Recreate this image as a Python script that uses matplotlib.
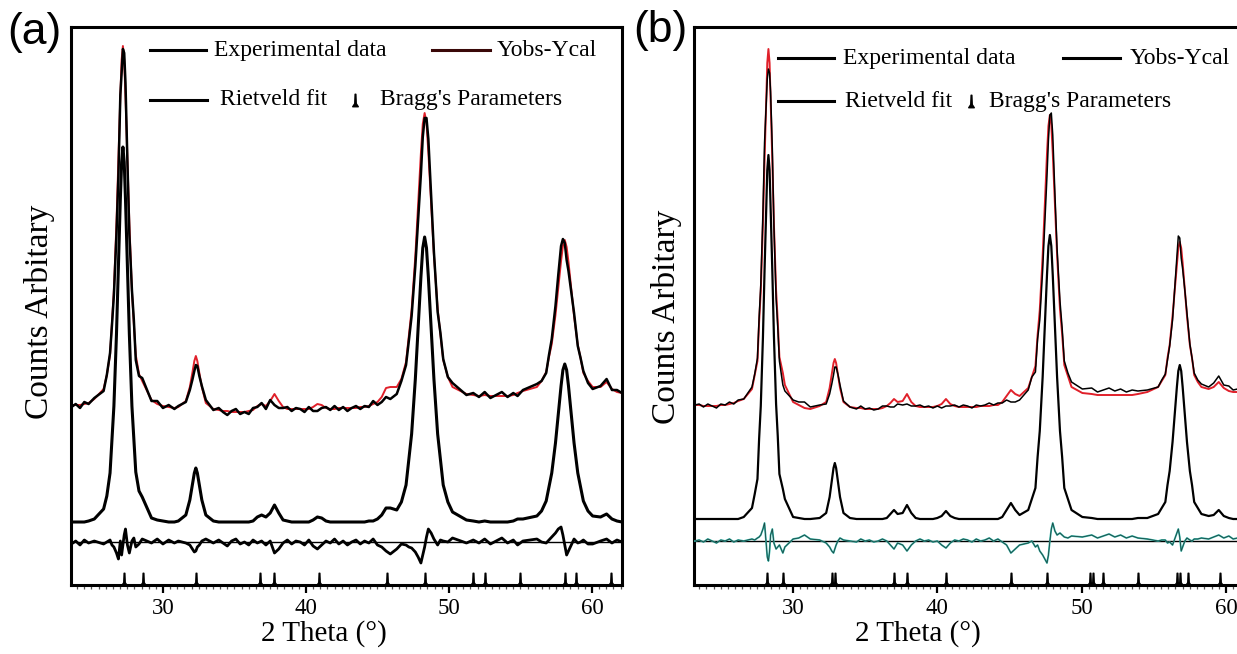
import numpy as np
import matplotlib
matplotlib.use("Agg")
import matplotlib.pyplot as plt
from matplotlib.path import Path
from matplotlib.ticker import MultipleLocator

plt.rcParams['font.family'] = ['Liberation Serif', 'DejaVu Serif']

# ---------------- panel (a) ----------------
# 2 theta grid, denser around the strong reflections
tt_a = [23.6, 23.9, 24.2, 24.5, 24.8,
        25.2, 25.85, 26.075, 26.3, 26.435, 26.57, 26.75, 26.885, 27.02, 27.11, 27.2, 27.29, 27.38,
        27.515, 27.65, 27.83, 27.965, 28.1, 28.325, 28.55, 29.2,
        29.6, 30.0, 30.4, 30.8,
        31.075, 31.6, 31.88, 32.055, 32.195, 32.3, 32.405, 32.545, 32.72, 33.0, 33.525,
        33.9, 34.2, 34.5, 34.8, 35.1, 35.4, 35.7, 36.0, 36.3, 36.6,
        36.9, 37.2, 37.5, 37.8, 38.1, 38.4, 38.7, 39.0, 39.3, 39.6,
        39.9, 40.2, 40.5, 40.8, 41.1, 41.4, 41.7, 42.0, 42.3, 42.6,
        42.9, 43.2, 43.5, 43.8, 44.1, 44.4, 44.7, 45.0, 45.3, 45.6, 45.9,
        46.35, 46.675, 47.0, 47.195, 47.39, 47.65, 47.845, 48.04, 48.17, 48.3, 48.43, 48.56, 48.755,
        48.95, 49.21, 49.405, 49.6, 49.925, 50.25, 51.225,
        51.7, 52.1, 52.5, 52.9, 53.3, 53.7, 54.1, 54.5, 54.8,
        55.175, 56.15, 56.475, 56.8, 56.995, 57.19, 57.45, 57.645, 57.84, 57.97, 58.1, 58.23, 58.36,
        58.555, 58.75, 59.01, 59.205, 59.4, 59.725, 60.05, 60.6, 61.025,
        61.4, 61.75, 62.1]
# calculated pattern drawn with the experimental data (upper, offset)
calc_a = [180, 180, 180, 181, 182,
          186, 196, 210, 230, 263, 295, 362, 426, 489, 525, 539, 525, 489,
          426, 362, 294, 261, 230, 211, 204, 185,
          181, 179, 178, 177,
          178, 184, 198, 212, 224, 229, 224, 212, 198, 182, 176,
          175, 174, 174, 173, 173, 173, 173, 174, 175, 179,
          181, 179, 184, 191, 184, 178, 176, 176, 176, 176,
          176, 176, 178, 181, 180, 177, 176, 176, 177, 177,
          177, 177, 177, 178, 178, 179, 181, 183, 188, 197, 198,
          198, 206, 223, 249, 275, 329, 380, 432, 461, 472, 462, 433, 381,
          330, 276, 250, 225, 208, 198, 191,
          190, 189, 190, 189, 189, 189, 189, 190, 192,
          194, 198, 204, 213, 228, 241, 270, 297, 324, 339, 345, 338, 323,
          296, 269, 240, 227, 212, 204, 198, 198, 203,
          196, 193, 192]
# Rietveld fit (middle curve)
fit_a = [63, 63, 63, 63, 64,
         66, 76, 89, 112, 146, 179, 251, 318, 386, 423, 438, 423, 386,
         318, 251, 179, 146, 113, 94, 88, 67,
         65, 64, 63, 63,
         64, 70, 85, 100, 112, 117, 112, 100, 85, 70, 64,
         63, 63, 63, 63, 63, 63, 63, 63, 64, 68,
         70, 68, 72, 80, 72, 65, 64, 63, 63, 63,
         63, 63, 65, 68, 67, 64, 63, 63, 63, 63,
         63, 63, 63, 63, 63, 64, 64, 66, 70, 77, 77,
         75, 83, 100, 126, 151, 206, 257, 308, 337, 348, 337, 308, 257,
         206, 151, 126, 100, 83, 73, 65,
         64, 63, 64, 63, 63, 63, 63, 64, 66,
         66, 69, 74, 84, 98, 112, 142, 170, 199, 215, 221, 215, 199,
         170, 142, 112, 98, 84, 74, 69, 68, 71,
         66, 64, 63]
# difference curve Yobs-Ycal (lower)
diff_a = [41, 44, 40, 45, 42,
          44, 41, 43, 45, 40, 38, 32, 26, 44, 30, 40, 50, 56,
          40, 32, 44, 47, 38, 41, 46, 42,
          46, 41, 45, 42,
          44, 42, 40, 36, 33, 34, 38, 40, 44, 46, 42,
          45, 42, 39, 44, 46, 41, 43, 40, 45, 42,
          44, 40, 44, 32, 36, 42, 45, 41, 44, 43,
          40, 45, 39, 36, 40, 44, 42, 46, 41, 44,
          40, 43, 45, 41, 44, 42, 46, 40, 38, 34, 31,
          36, 41, 40, 38, 37, 33, 28, 22, 30, 38, 48, 56, 52,
          46, 40, 45, 44, 43, 47, 42,
          45, 42, 46, 41, 44, 47, 42, 45, 40,
          44, 46, 43, 42, 45, 48, 52, 56, 58, 50, 40, 30, 34,
          40, 46, 42, 43, 45, 41, 41, 44, 46,
          42, 45, 43]
zero_a = 43
bragg_a = [27.25, 28.6, 32.3, 36.8, 37.8, 40.9, 45.7, 48.3, 51.7, 52.5, 55.0, 58.1, 58.9, 61.3]

# ---------------- panel (b) ----------------
tt_b = [23.2, 23.5, 23.8, 24.1, 24.4, 24.7, 25.0, 25.3, 25.6, 25.9, 26.2,
        26.59, 27.16, 27.35, 27.54, 27.654, 27.77, 27.92, 28.03, 28.15, 28.22, 28.3, 28.38, 28.45,
        28.57, 28.68, 28.83, 28.946, 29.06, 29.3, 29.44, 30.01,
        30.4, 30.8, 31.2,
        31.85, 32.3, 32.54, 32.69, 32.81, 32.9, 32.99, 33.11, 33.26, 33.5, 33.95,
        34.4, 34.7, 35.0, 35.3, 35.6, 35.9, 36.2, 36.5, 36.75, 37.0,
        37.25, 37.6, 37.9, 38.2, 38.5, 38.8, 39.1, 39.4, 39.7, 40.0,
        40.3, 40.6, 40.9, 41.2, 41.5, 41.8, 42.1, 42.4, 42.7, 43.0,
        43.3, 43.6, 43.9, 44.2, 44.5, 44.8, 45.1, 45.4, 45.7,
        46.3, 46.55, 46.8, 46.95, 47.1, 47.3, 47.45, 47.6, 47.7, 47.8, 47.9, 48.0, 48.15, 48.3,
        48.5, 48.65, 48.8, 49.05, 49.3, 50.05,
        50.7, 51.1, 51.5, 51.9, 52.3, 52.7, 53.1, 53.5, 53.9,
        54.55, 55.3, 55.55, 55.8, 55.95, 56.1, 56.3, 56.45, 56.6, 56.7, 56.8, 56.9, 57.0, 57.15,
        57.3, 57.5, 57.65, 57.8, 58.05, 58.3,
        58.8, 59.15, 59.5, 59.85, 60.2, 60.5, 60.8, 61.1]
calc_b = [180, 180, 179, 179, 179, 179, 180, 180, 181, 182, 184,
          186, 196, 210, 224, 263, 294, 361, 424, 487, 522, 536, 522, 487,
          424, 361, 295, 264, 228, 212, 200, 183,
          180, 177, 176,
          179, 183, 197, 211, 222, 226, 222, 211, 197, 183, 178,
          177, 177, 176, 176, 176, 176, 177, 179, 182, 186,
          183, 184, 191, 183, 179, 178, 178, 178, 178, 179,
          181, 186, 181, 179, 178, 178, 178, 178, 178, 179,
          179, 179, 180, 180, 183, 189, 195, 191, 189,
          197, 208, 219, 250, 275, 329, 380, 431, 459, 470, 460, 432, 381, 330,
          276, 251, 220, 209, 198, 192,
          191, 190, 190, 190, 190, 190, 190, 190, 191,
          193, 198, 204, 210, 227, 240, 269, 295, 322, 337, 343, 337, 322, 295,
          269, 240, 227, 210, 203, 198,
          196, 198, 203, 197, 194, 193, 193, 193]
fit_b = [66, 66, 66, 66, 66, 66, 66, 66, 66, 66, 66,
         68, 77, 91, 106, 146, 179, 248, 314, 379, 415, 430, 415, 379,
         314, 249, 181, 149, 111, 96, 86, 68,
         67, 66, 66,
         67, 72, 88, 104, 117, 122, 117, 104, 88, 72, 67,
         66, 66, 66, 66, 66, 66, 66, 67, 71, 75,
         71, 72, 80, 72, 67, 66, 66, 66, 66, 67,
         69, 74, 69, 67, 66, 66, 66, 66, 66, 66,
         66, 66, 66, 66, 68, 75, 82, 75, 70,
         75, 86, 97, 128, 154, 208, 259, 310, 339, 350, 339, 310, 259, 208,
         154, 128, 97, 86, 75, 68,
         67, 66, 66, 66, 66, 66, 66, 66, 67,
         67, 71, 77, 83, 100, 114, 143, 171, 198, 214, 220, 214, 198, 171,
         143, 114, 100, 83, 77, 71,
         69, 70, 75, 69, 67, 66, 66, 66]
diff_b = [44, 45, 43, 46, 44, 42, 45, 44, 46, 43, 45,
          44, 46, 45, 47, 48, 50, 56, 62, 40, 28, 24, 34, 50,
          56, 42, 36, 38, 40, 32, 38, 46,
          47, 50, 46,
          45, 42, 38, 34, 32, 36, 40, 44, 47, 45, 44,
          43, 46, 44, 45, 43, 44, 46, 44, 40, 36,
          42, 40, 34, 40, 44, 46, 44, 45, 43, 44,
          40, 37, 42, 45, 44, 46, 45, 43, 46, 44,
          45, 47, 44, 46, 43, 40, 32, 36, 40,
          42, 44, 38, 40, 34, 30, 26, 22, 30, 44, 56, 62, 54, 50,
          52, 50, 48, 47, 49, 48,
          50, 47, 49, 51, 48, 50, 47, 49, 47,
          46, 44, 45, 45, 42, 43, 40, 46, 52, 56, 48, 34, 38, 44,
          47, 45, 44, 46, 46, 47,
          46, 48, 50, 47, 49, 46, 47, 45]
zero_b = 44
bragg_b = [28.2, 29.3, 32.7, 32.9, 37.0, 37.9, 40.6, 45.1, 47.6, 50.6, 50.8, 51.5,
           53.9, 56.6, 56.8, 57.4, 59.6]

# Bragg reflection marker: thin spike with a flared foot
spike = Path([(-0.45, -1), (-0.12, -0.5), (-0.06, 1), (0.06, 1), (0.12, -0.5), (0.45, -1), (-0.45, -1)],
             closed=True)

fig = plt.figure(figsize=(12.37, 6.54), dpi=100)
ax_a = fig.add_axes([0.0574, 0.1055, 0.4454, 0.8532])
ax_b = fig.add_axes([0.5610, 0.1055, 0.4422, 0.8532])

panels = [
    (ax_a, tt_a, calc_a, fit_a, diff_a, zero_a, bragg_a, (23.57, 62.1), 'black', 1.8, 2.2),
    (ax_b, tt_b, calc_b, fit_b, diff_b, zero_b, bragg_b, (23.14, 61.04), '#2fb5a8', 1.1, 1.6),
]

for ax, tt, calc, fit, diff, zero, bragg, xlim, dcol, lw_top, lw_fit in panels:
    tt = np.array(tt)
    calc = np.array(calc, dtype=float)
    diff = np.array(diff, dtype=float)
    obs = calc + (diff - zero)  # observed = calculated + residual
    ax.plot(tt, calc, color='#e0202a', lw=1.4, zorder=2)
    ax.plot(tt, obs, color='black', lw=lw_top, zorder=3)
    ax.plot(tt, fit, color='black', lw=lw_fit, zorder=3)
    ax.plot(xlim, [zero, zero], color='black', lw=1.0, zorder=2)
    ax.plot(tt, diff, color=dcol, lw=lw_top + 0.2, zorder=3)
    ax.plot(bragg, [6] * len(bragg), ls='none', marker=spike, ms=9, color='black', zorder=4)

    ax.set_xlim(xlim)
    ax.set_ylim(0, 558)
    ax.set_yticks([])
    ax.set_xticks([30, 40, 50, 60])
    ax.xaxis.set_minor_locator(MultipleLocator(0.5))
    ax.tick_params(axis='x', which='major', direction='out', length=6, width=1.6,
                   labelsize=16.5, pad=3)
    ax.tick_params(axis='x', which='minor', direction='out', length=3, width=0.9, color='#555555')
    for sp in ax.spines.values():
        sp.set_linewidth(2.2)
    ax.set_xlabel('2 Theta (°)', fontsize=21)
    ax.set_ylabel('Counts Arbitary', fontsize=24)

# dark trace over the cyan residual of panel (b)
ax_b.plot(tt_b, diff_b, color='#1a1a1a', lw=0.6, alpha=0.7, zorder=3)

ax_a.xaxis.set_label_coords(0.459, -0.063)
ax_b.xaxis.set_label_coords(0.41, -0.063)
ax_a.yaxis.set_label_coords(-0.029, 0.49)
ax_b.yaxis.set_label_coords(-0.021, 0.48)


def legend_line(ax, x0, x1, y, color='black'):
    ax.plot([x0, x1], [y, y], color=color, lw=2.2, transform=ax.transAxes, clip_on=False, zorder=5)


def legend_text(ax, x, y, s):
    ax.text(x, y, s, transform=ax.transAxes, fontsize=17, va='center', ha='left', zorder=5)


# legend of panel (a), positions in axes fractions
legend_line(ax_a, 0.143, 0.245, 0.958)
legend_text(ax_a, 0.259, 0.958, 'Experimental data')
legend_line(ax_a, 0.655, 0.760, 0.958, color='#3a0808')
legend_text(ax_a, 0.773, 0.958, 'Yobs-Ycal')
legend_line(ax_a, 0.143, 0.247, 0.870)
legend_text(ax_a, 0.270, 0.870, 'Rietveld fit')
ax_a.plot([0.515], [0.870], ls='none', marker=spike, ms=9, color='black', transform=ax_a.transAxes,
          clip_on=False)
legend_text(ax_a, 0.560, 0.870, "Bragg's Parameters")

# legend of panel (b)
legend_line(ax_b, 0.154, 0.256, 0.944)
legend_text(ax_b, 0.272, 0.944, 'Experimental data')
legend_line(ax_b, 0.675, 0.779, 0.944)
legend_text(ax_b, 0.797, 0.944, 'Yobs-Ycal')
legend_line(ax_b, 0.154, 0.256, 0.867)
legend_text(ax_b, 0.277, 0.867, 'Rietveld fit')
ax_b.plot([0.506], [0.867], ls='none', marker=spike, ms=9, color='black', transform=ax_b.transAxes,
          clip_on=False)
legend_text(ax_b, 0.540, 0.867, "Bragg's Parameters")

fig.text(0.0275, 0.951, '(a)', fontsize=32, family='Liberation Sans', ha='center', va='center')
fig.text(0.5336, 0.954, '(b)', fontsize=32, family='Liberation Sans', ha='center', va='center')

fig.savefig('out.png', dpi=100)
